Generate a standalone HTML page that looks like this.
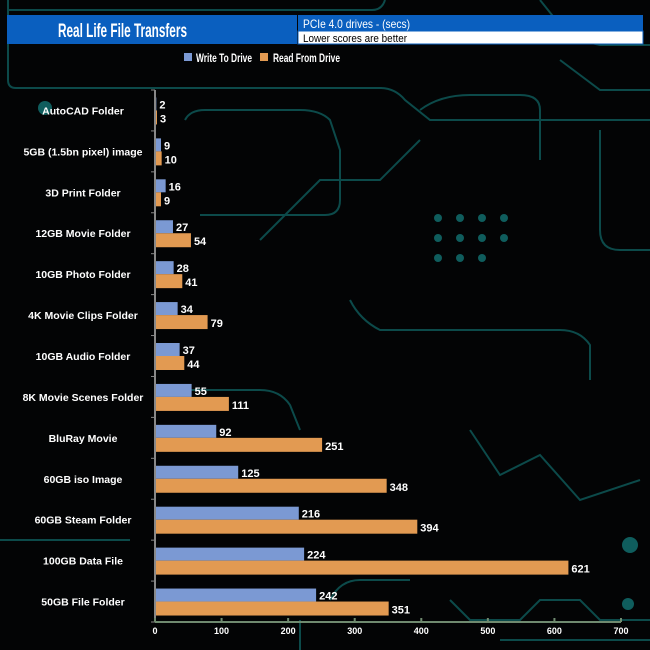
<!DOCTYPE html>
<html><head><meta charset="utf-8"><style>
body{margin:0;background:#000;}
svg{display:block;font-family:"Liberation Sans",Arial,sans-serif;}
</style></head><body>
<svg id="c" width="650" height="650" viewBox="0 0 650 650">
<rect width="650" height="650" fill="#030405"/>
<g stroke="#0c4a4a" stroke-width="2" fill="none">
<path d="M8 0 V80 Q8 88 16 88 H380 Q395 88 405 100 L430 120 H650"/>
<path d="M385 0 Q382 10 372 10 H8"/>
<path d="M540 0 L560 25 Q575 40 600 45 L650 45"/>
<path d="M560 60 L600 90 H650"/>
<path d="M185 120 Q190 110 205 110 H300 Q320 110 330 120 L340 150 V200 Q340 215 325 215 H200"/>
<path d="M420 110 Q440 95 470 95 H520 Q540 95 540 110 V160"/>
<path d="M600 130 V230 Q600 250 620 250 H650"/>
<path d="M260 240 L320 180 H380 L420 140"/>
<path d="M350 300 Q360 320 380 330 H560 Q580 330 590 345 V380"/>
<path d="M190 390 H260 Q280 390 290 405 L300 430"/>
<path d="M470 430 L500 475 L540 455 L580 500 L640 480"/>
<path d="M300 620 V650"/><path d="M330 600 Q340 580 360 580 H410"/>
<path d="M450 600 L470 620 H520 L540 600 H580 L600 620 H650"/>
<path d="M0 540 H130"/><path d="M500 640 H650"/>
</g>
<g fill="#0f5d5d">
<circle cx="630" cy="545" r="8"/><circle cx="628" cy="604" r="6"/><circle cx="45" cy="108" r="7"/>
<circle cx="438" cy="218" r="4"/><circle cx="460" cy="218" r="4"/><circle cx="482" cy="218" r="4"/><circle cx="504" cy="218" r="4"/>
<circle cx="438" cy="238" r="4"/><circle cx="460" cy="238" r="4"/><circle cx="482" cy="238" r="4"/><circle cx="504" cy="238" r="4"/>
<circle cx="438" cy="258" r="4"/><circle cx="460" cy="258" r="4"/><circle cx="482" cy="258" r="4"/>
</g>
<rect x="7" y="15" width="290" height="29" fill="#0a5fbf"/>
<text x="58" y="37" fill="#fff" font-size="19" font-weight="bold" textLength="129" lengthAdjust="spacingAndGlyphs">Real Life File Transfers</text>
<rect x="298" y="15" width="345" height="16" fill="#0a5fbf"/>
<rect x="298" y="31" width="345" height="13" fill="#fff" stroke="#0a5fbf"/>
<text x="303" y="28" fill="#fff" font-size="12" textLength="107" lengthAdjust="spacingAndGlyphs">PCIe 4.0 drives - (secs)</text>
<text x="303" y="42" fill="#000" font-size="11" textLength="104" lengthAdjust="spacingAndGlyphs">Lower scores are better</text>
<g font-size="12" font-weight="bold" fill="#fff">
<rect x="184" y="53" width="8" height="8" fill="#7b99d3"/>
<text x="196" y="62" textLength="56" lengthAdjust="spacingAndGlyphs">Write To  Drive</text>
<rect x="260" y="53" width="8" height="8" fill="#e29a52"/>
<text x="273" y="62" textLength="67" lengthAdjust="spacingAndGlyphs">Read From  Drive</text>
</g>
<g id="plot"></g>
</svg>
<script>
const categories=["AutoCAD Folder","5GB (1.5bn pixel) image","3D Print Folder","12GB Movie Folder","10GB Photo Folder","4K Movie Clips Folder","10GB Audio Folder","8K Movie Scenes Folder","BluRay Movie","60GB iso Image","60GB Steam Folder","100GB Data File","50GB File Folder"];
const writeValues=[2,9,16,27,28,34,37,55,92,125,216,224,242];
const readValues=[3,10,9,54,41,79,44,111,251,348,394,621,351];
const tickValues=[0,100,200,300,400,500,600,700];
const NS="http://www.w3.org/2000/svg";
const g=document.getElementById('plot');
const x0=155,x1=621,xmax=700,yTop=90,yBot=622;
const band=(yBot-yTop)/categories.length;
const xs=v=>x0+v/xmax*(x1-x0);
const yc=i=>yTop+band*(i+0.5);
function mk(t,a){const e=document.createElementNS(NS,t);for(const k in a)e.setAttribute(k,a[k]);g.appendChild(e);return e;}
categories.forEach((c,i)=>{
  const y=yc(i);
  let t=mk('text',{x:83,y:y+4,'text-anchor':'middle',fill:'#fff','font-size':10.5,'font-weight':'bold'});t.textContent=c;
  
  
  let b=mk('rect',{x:x0,y:y-13,width:xs(writeValues[i])-x0,height:13,fill:'#7b99d3'});
  
  
  let r=mk('rect',{x:x0,y:y,width:xs(readValues[i])-x0,height:14,fill:'#e29a52'});
  
  
  let l1=mk('text',{x:xs(writeValues[i])+3,y:y-2,fill:'#fff','font-size':11,'font-weight':'bold'});l1.textContent=writeValues[i];
  
  
  let l2=mk('text',{x:xs(readValues[i])+3,y:y+12,fill:'#fff','font-size':11,'font-weight':'bold'});l2.textContent=readValues[i];
  
  
});
for(let i=0;i<=categories.length;i++){const y=yTop+band*i;const t=mk('line',{x1:x0-4,x2:x0,y1:y,y2:y,stroke:'#888'});
  
  }
const ya=mk('line',{x1:x0,x2:x0,y1:yTop,y2:yBot,stroke:'#888','stroke-width':2});


const xa=mk('line',{x1:x0,x2:x1,y1:yBot,y2:yBot,stroke:'#6f8a6f','stroke-width':2});


tickValues.forEach(v=>{
  const tk=mk('line',{x1:xs(v),x2:xs(v),y1:yBot,y2:yBot-4,stroke:'#6f8a6f','stroke-width':2});
  
  
  const t=mk('text',{x:xs(v),y:yBot+12,'text-anchor':'middle',fill:'#fff','font-size':9,'font-weight':'bold'});t.textContent=v;
  
  
});
</script>
</body></html>
